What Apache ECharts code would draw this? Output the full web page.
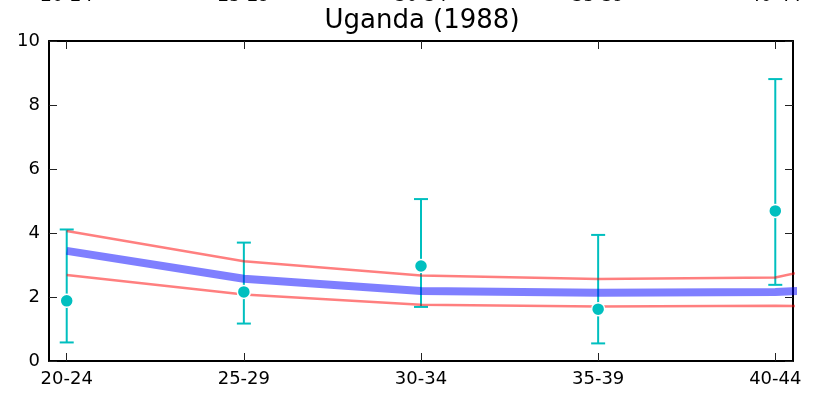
<!DOCTYPE html>
<html>
<head>
<meta charset="utf-8">
<script src="https://cdn.jsdelivr.net/npm/echarts@6/dist/echarts.min.js"></script>
<style>
html,body{margin:0;padding:0;background:#fff;}
#chart{width:814px;height:393px;}
</style>
</head>
<body>
<div id="chart"></div>
<script>
// Age-group categories (x axis tick labels)
var categories = ['20-24', '25-29', '30-34', '35-39', '40-44'];
// Observed rates with error bars
var observed = [1.88, 2.16, 2.97, 1.62, 4.69];
var observedLow = [0.58, 1.17, 1.69, 0.55, 2.38];
var observedHigh = [4.11, 3.70, 5.06, 3.94, 8.81];
// Model curve and its band (last value belongs to the next age group, beyond the plotted range)
var model = [3.44, 2.57, 2.19, 2.13, 2.16, 2.36];
var modelHigh = [4.06, 3.12, 2.67, 2.56, 2.61, 3.81];
var modelLow = [2.69, 2.08, 1.76, 1.70, 1.73, 1.63];
// Y tick values
var yTicks = [0, 2, 4, 6, 8, 10];

var idx = categories.map(function (c, i) { return i; });
function pairs(arr) { return arr.map(function (v, i) { return [i, v]; }); }

var font = 'DejaVu Sans';
var chart = echarts.init(document.getElementById('chart'), null, {renderer: 'canvas'});

var xCommon = {
  type: 'value', min: -0.1, max: 4.1,
  splitLine: {show: false},
  axisLine: {show: true, onZero: false, lineStyle: {color: '#000', width: 2}},
  axisTick: {show: true, inside: true, length: 8, customValues: idx, lineStyle: {color: '#222', width: 1}},
  axisLabel: {
    show: true, customValues: idx, fontFamily: font, fontSize: 18, color: '#000',
    formatter: function (v) { return categories[Math.round(v)]; }
  }
};
var yCommon = {
  type: 'value', min: yTicks[0], max: yTicks[yTicks.length - 1], interval: yTicks[1] - yTicks[0],
  splitLine: {show: false},
  axisLine: {show: true, onZero: false, lineStyle: {color: '#000', width: 2}},
  axisTick: {show: true, inside: true, length: 8, lineStyle: {color: '#222', width: 1}},
  axisLabel: {show: true, fontFamily: font, fontSize: 18, color: '#000', margin: 9}
};

var option = {
  animation: false,
  backgroundColor: '#fff',
  title: {
    text: 'Uganda (1988)', left: 417, textAlign: 'center', top: 3,
    textStyle: {fontFamily: font, fontSize: 26, fontWeight: 'normal', color: '#000'}
  },
  grid: {left: 49, right: 21, top: 41, bottom: 32, containLabel: false, outerBoundsMode: 'none'},
  xAxis: [
    Object.assign({}, xCommon, {position: 'bottom',
      axisLabel: Object.assign({}, xCommon.axisLabel, {margin: 9})}),
    Object.assign({}, xCommon, {position: 'top',
      axisLabel: Object.assign({}, xCommon.axisLabel, {margin: 36})})
  ],
  yAxis: [
    Object.assign({}, yCommon, {position: 'left'}),
    Object.assign({}, yCommon, {position: 'right', axisLabel: {show: false}})
  ],
  series: [
    {
      type: 'custom', z: 2, clip: false,
      data: idx.map(function (i) { return [i, observedLow[i], observedHigh[i]]; }),
      renderItem: function (params, api) {
        var x = api.value(0);
        var p1 = api.coord([x, api.value(2)]);
        var p2 = api.coord([x, api.value(1)]);
        var hw = 7;
        var st = {stroke: '#00bfbf', lineWidth: 2};
        return {type: 'group', children: [
          {type: 'line', shape: {x1: p1[0], y1: p1[1], x2: p2[0], y2: p2[1]}, style: st},
          {type: 'line', shape: {x1: p1[0] - hw, y1: p1[1], x2: p1[0] + hw, y2: p1[1]}, style: st},
          {type: 'line', shape: {x1: p2[0] - hw, y1: p2[1], x2: p2[0] + hw, y2: p2[1]}, style: st}
        ]};
      }
    },
    {
      type: 'line', z: 3, data: pairs(modelHigh), showSymbol: false, symbol: 'none', clip: true,
      lineStyle: {color: 'rgba(255,0,0,0.5)', width: 2.5}
    },
    {
      type: 'line', z: 3, data: pairs(modelLow), showSymbol: false, symbol: 'none', clip: true,
      lineStyle: {color: 'rgba(255,0,0,0.5)', width: 2.5}
    },
    {
      type: 'line', z: 3, data: pairs(model), showSymbol: false, symbol: 'none', clip: true,
      lineStyle: {color: 'rgba(0,0,255,0.5)', width: 8, cap: 'butt'}
    },
    {
      type: 'scatter', z: 4, data: pairs(observed), symbol: 'circle', symbolSize: 13,
      itemStyle: {color: '#00bfbf', borderColor: '#fff', borderWidth: 1.5, opacity: 1}
    }
  ]
};
chart.setOption(option);
</script>
</body>
</html>
